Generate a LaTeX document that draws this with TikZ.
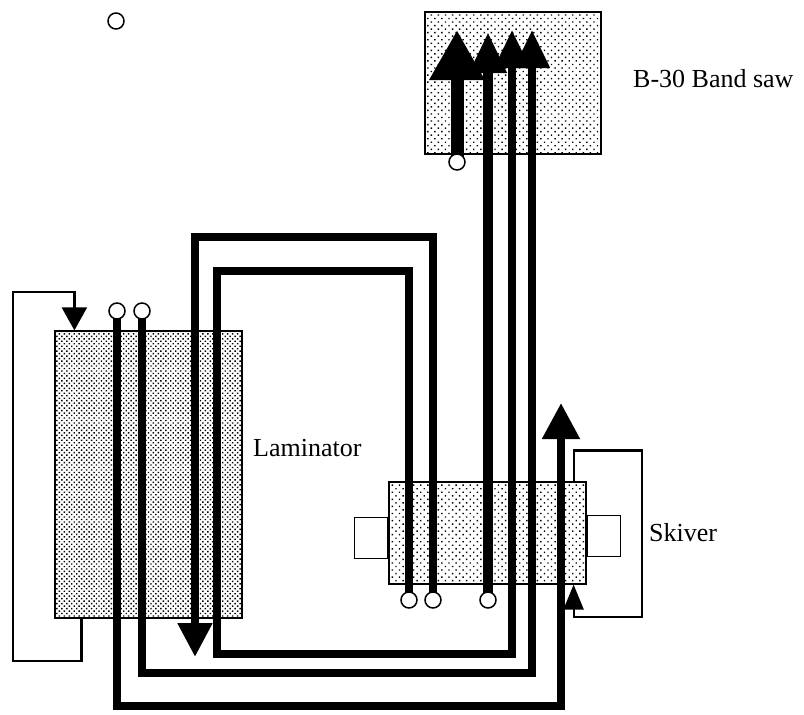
\documentclass[tikz,border=0pt]{standalone}
\usepackage{fontspec}
\setmainfont{Liberation Serif}
\usetikzlibrary{arrows.meta,patterns.meta}

\begin{document}
\begin{tikzpicture}[x=1pt, y=-1pt, font=\fontsize{26}{30}\selectfont,
    machine/.style={draw, line width=1.2pt, inner sep=0pt, pattern color=black},
    tab/.style={draw, fill=white, line width=1.2pt, inner sep=0pt, minimum width=33pt, minimum height=41pt},
    port/.style={draw, circle, fill=white, line width=1.5pt, minimum size=16pt, inner sep=0pt},
    feed/.style={line width=8pt},
    loopline/.style={line width=2.2pt},
    tag/.style={anchor=base west, inner sep=0pt}]
            \useasboundingbox (0,0) rectangle (804,715);

            % Machines
            \node[machine, pattern={Dots[distance=3.5pt, radius=1pt, angle=45]}, minimum width=187pt, minimum height=287pt] (lam) at (148.5,474.5) {};
            \node[machine, pattern={Dots[distance=5pt, radius=1pt, angle=45]}, minimum width=176pt, minimum height=142pt] (saw) at (513,83) {};
            \node[machine, pattern={Dots[distance=5pt, radius=1pt, angle=45]}, minimum width=197pt, minimum height=102pt] (skv) at (487.5,533) {};
            \node[tab, anchor=east] (skvleft) at ([yshift=-5pt]skv.west) {};
            \node[tab, anchor=west] (skvright) at ([yshift=-3pt]skv.east) {};

            % Labels
            \node[tag] (lamtext) at (253,456) {Laminator};
            \node[tag] (sawtext) at (633,87) {B-30 Band saw};
            \node[tag] (skvtext) at (649,541) {Skiver};

            % Ports
            \coordinate (c0pos) at (116,21);
            \coordinate (c1pos) at (117,311);
            \coordinate (c2pos) at (142,311);
            \coordinate (c3pos) at (409,600);
            \coordinate (c4pos) at (433,600);
            \coordinate (c5pos) at (488,600);
            \coordinate (c6pos) at (457,162);

            % Ends of the feeds
            \coordinate (skvin) at (561,403);
            \coordinate (sawin1) at (457,30);
            \coordinate (sawin2) at (488,32);
            \coordinate (sawin3) at (512,30);
            \coordinate (sawin4) at (532,30);
            \coordinate (lamin) at (195,657);

            % Feeds
            \draw[feed, -{Triangle[length=36pt, width=36pt]}] (c1pos) -- (c1pos |- 0,706) -| (skvin);
            \draw[feed, -{Triangle[length=38pt, width=34pt]}] (c2pos) -- (c2pos |- 0,673) -| (sawin4);
            \draw[feed, -{Triangle[length=38pt, width=34pt]}] (c3pos) -- (c3pos |- 0,271) -| (217,654) -| (sawin3);
            \draw[feed, -{Triangle[length=34pt, width=33pt]}] (c4pos) -- (c4pos |- 0,237) -| (lamin);
            \draw[feed, line width=10pt, -{Triangle[length=41pt, width=35pt]}] (c5pos) -- (sawin2);
            \draw[feed, line width=13pt, -{Triangle[length=50pt, width=52pt]}] (c6pos) -- (sawin1);

            % Return loops
            \draw[loopline, -{Triangle[length=23pt, width=25pt]}] ([xshift=27pt]lam.south west) -- ++(0,42) -| (13,292) -| ([xshift=20pt]lam.north west);
            \draw[loopline, -{Triangle[length=25pt, width=20pt]}] ([xshift=-13pt]skv.north east) -- ++(0,-31) -| (642,617) -| ([xshift=-13pt]skv.south east);

            % Port circles on top
            \node[port] (c0) at (c0pos) {};
            \node[port] (c1) at (c1pos) {};
            \node[port] (c2) at (c2pos) {};
            \node[port] (c3) at (c3pos) {};
            \node[port] (c4) at (c4pos) {};
            \node[port] (c5) at (c5pos) {};
            \node[port] (c6) at (c6pos) {};
        \end{tikzpicture}
\end{document}
